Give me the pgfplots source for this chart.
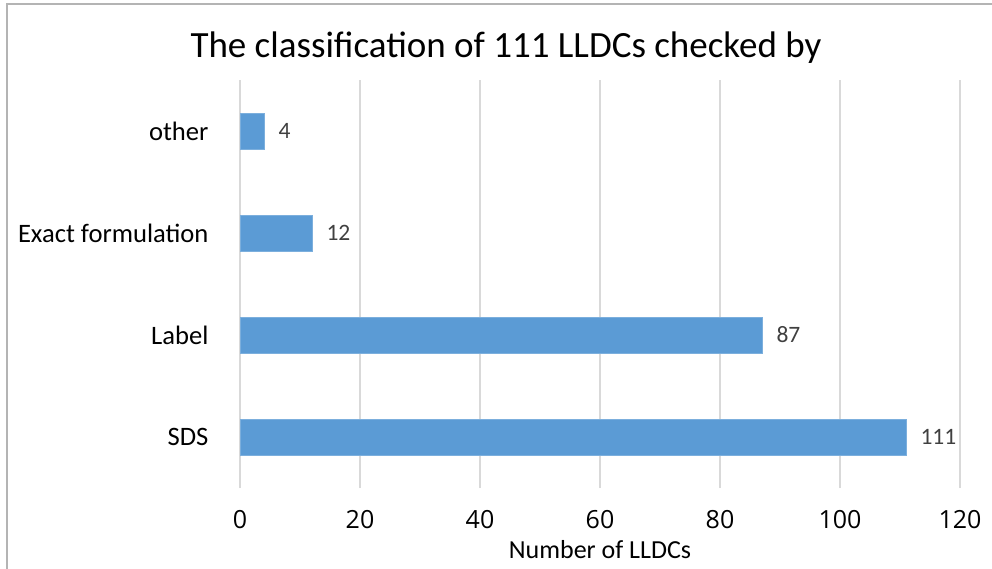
\documentclass[border=0pt]{standalone}
\usepackage{pgfplots}
\pgfplotsset{compat=1.18}
\usepackage{fontspec}
\setmainfont{Carlito}
\newfontfamily\tickfont{Open Sans}
\definecolor{barblue}{HTML}{5B9BD5}
\definecolor{gridgray}{HTML}{D9D9D9}
\definecolor{framegray}{HTML}{B4B4B4}
\definecolor{labgray}{HTML}{404040}
\begin{document}
\begin{tikzpicture}[x=1pt,y=1pt]
\useasboundingbox (0,0) rectangle (992,-569);
\draw[framegray, line width=1.5pt] (7,-4) rectangle (1020,-600);
\begin{axis}[
  at={(240pt,-488pt)}, anchor=south west,
  scale only axis, width=720pt, height=408pt,
  xbar, bar width=36pt,
  xmin=0, xmax=120, ymin=-0.5, ymax=3.5,
  xtick={0,20,...,120},
  ytick={0,1,2,3},
  yticklabels={SDS,Label,Exact formulation,other},
  axis line style={draw=none},
  major tick length=0pt,
  xmajorgrids, grid style={gridgray, line width=1.5pt},
  /pgf/number format/assume math mode=true,
  xticklabel style={font=\tickfont\fontsize{25}{28}\selectfont, black, yshift=-19pt},
  yticklabel style={font=\fontsize{26.6}{30}\selectfont, black, xshift=-28pt},
  xlabel={Number of LLDCs},
  xlabel style={font=\fontsize{26}{30}\selectfont, at={(axis description cs:0.5,0)}, anchor=center, yshift=-62pt},
  nodes near coords,
  every node near coord/.append style={font=\fontsize{23.5}{26}\selectfont, labgray, anchor=west, xshift=11pt},
  clip=false,
]
\addplot[fill=barblue, draw=barblue!80!white] coordinates {(111,0) (87,1) (12,2) (4,3)};
\end{axis}
\node[font=\fontsize{37}{44}\selectfont, black] at (506,-48) {The classification of 111 LLDCs checked by};
\end{tikzpicture}
\end{document}
